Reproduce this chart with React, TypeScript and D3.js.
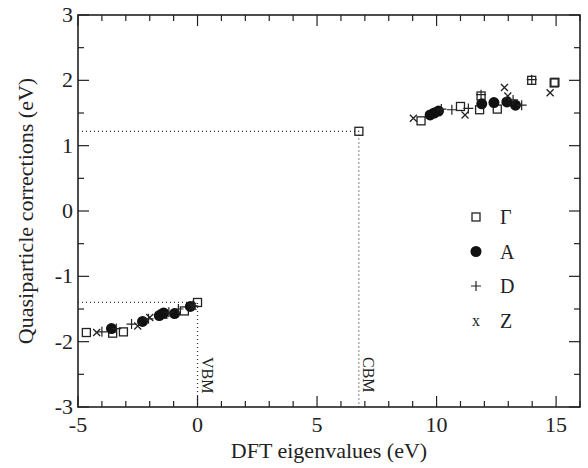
import React from 'react';
import * as d3 from 'd3';

// points: [DFT eigenvalue, QP correction]
const gammaPts: [number, number][] = [
  [-4.65, -1.86], [-3.55, -1.87], [-3.1, -1.85], [-1.45, -1.58], [-0.55, -1.53], [0, -1.4],
  [6.75, 1.22],
  [9.35, 1.38], [11.0, 1.6], [11.8, 1.55], [11.86, 1.76], [12.54, 1.56], [13.98, 2.0], [14.92, 1.96], [14.95, 1.97],
];
const aPts: [number, number][] = [
  [-3.6, -1.8], [-2.3, -1.69], [-1.6, -1.6], [-1.42, -1.56], [-0.96, -1.57], [-0.3, -1.46],
  [9.73, 1.47], [9.9, 1.5], [10.08, 1.53], [11.89, 1.64], [12.4, 1.66], [12.94, 1.67], [13.3, 1.62],
];
const dPts: [number, number][] = [
  [-4.0, -1.85], [-3.4, -1.8], [-2.76, -1.73], [-2.05, -1.65], [-1.2, -1.55], [-0.8, -1.5], [-0.2, -1.45],
  [10.2, 1.56], [10.64, 1.55], [11.33, 1.57], [11.86, 1.78], [13.2, 1.7], [13.56, 1.62], [13.98, 2.01],
];
const zPts: [number, number][] = [
  [-4.22, -1.86], [-2.5, -1.76], [-2.0, -1.63], [-0.2, -1.46],
  [9.03, 1.42], [11.19, 1.47], [12.84, 1.89], [12.98, 1.76], [14.75, 1.81],
];

const vbm: [number, number] = [0, -1.4];
const cbm: [number, number] = [6.75, 1.22];

const legendLabels = ['Γ', 'A', 'D', 'Z'];
const xTicks = [-5, 0, 5, 10, 15];
const yTicks = [-3, -2, -1, 0, 1, 2, 3];

const W = 588, H = 468;
const m = { left: 78, top: 15, right: 8, bottom: 61 };
const font = "'Liberation Serif', 'DejaVu Serif', serif";

function Marker({ kind, x, y }: { kind: string; x: number; y: number }) {
  if (kind === 'Γ') return <rect x={x - 4} y={y - 4} width={8} height={8} fill="none" stroke="#222" strokeWidth={1.3} />;
  if (kind === 'A') return <circle cx={x} cy={y} r={5.5} fill="#111" />;
  if (kind === 'D') return <path d={`M${x - 5},${y}H${x + 5}M${x},${y - 5}V${y + 5}`} stroke="#222" strokeWidth={1.2} />;
  return <path d={`M${x - 3.5},${y - 3.5}L${x + 3.5},${y + 3.5}M${x - 3.5},${y + 3.5}L${x + 3.5},${y - 3.5}`} stroke="#222" strokeWidth={1.3} />;
}

export default function App() {
  const x = d3.scaleLinear().domain([-5, 16]).range([m.left, W - m.right]);
  const y = d3.scaleLinear().domain([-3, 3]).range([H - m.bottom, m.top]);
  const x0 = m.left, x1 = W - m.right, y0 = H - m.bottom, y1 = m.top;

  const xMinor = d3.range(-5, 17, 1);
  const yMinor = d3.range(-3, 3.01, 0.5);
  const series: [string, [number, number][]][] = [['Γ', gammaPts], ['A', aPts], ['D', dPts], ['Z', zPts]];

  return (
    <svg width={W} height={H} style={{ position: 'absolute', left: 0, top: 0, background: '#fff', fontFamily: font }}>
      {/* dotted guides for VBM / CBM */}
      <g stroke="#333" strokeWidth={1.2} strokeDasharray="1,3" fill="none">
        <path d={`M${x0},${y(vbm[1])}H${x(vbm[0])}V${y0}`} />
        <path d={`M${x0},${y(cbm[1])}H${x(cbm[0])}V${y0}`} />
      </g>
      <text transform={`translate(${x(vbm[0]) + 4},${y0 - 50}) rotate(90)`} fontSize={16} fill="#222">VBM</text>
      <text transform={`translate(${x(cbm[0]) + 4},${y0 - 50}) rotate(90)`} fontSize={16} fill="#222">CBM</text>

      {/* ticks, all sides, pointing in */}
      <g stroke="#222" strokeWidth={1.2}>
        {xMinor.map(t => {
          const len = t % 5 === 0 ? 11 : 6;
          return (
            <g key={'x' + t}>
              <line x1={x(t)} x2={x(t)} y1={y0} y2={y0 - len} />
              <line x1={x(t)} x2={x(t)} y1={y1} y2={y1 + len} />
            </g>
          );
        })}
        {yMinor.map(t => {
          const len = Number.isInteger(t) ? 11 : 6;
          return (
            <g key={'y' + t}>
              <line x1={x0} x2={x0 + len} y1={y(t)} y2={y(t)} />
              <line x1={x1} x2={x1 - len} y1={y(t)} y2={y(t)} />
            </g>
          );
        })}
      </g>
      <rect x={x0} y={y1} width={x1 - x0} height={y0 - y1} fill="none" stroke="#222" strokeWidth={1.6} />

      {xTicks.map(t => (
        <text key={t} x={x(t)} y={y0 + 25} textAnchor="middle" fontSize={22} fill="#222">{t}</text>
      ))}
      {yTicks.map(t => (
        <text key={t} x={x0 - 5} y={y(t) + 7} textAnchor="end" fontSize={22} fill="#222">{t}</text>
      ))}
      <text x={(x0 + x1) / 2} y={H - 10} textAnchor="middle" fontSize={22} fill="#222">DFT eigenvalues (eV)</text>
      <text transform={`translate(33,${(y0 + y1) / 2}) rotate(-90)`} textAnchor="middle" fontSize={22} fill="#222">
        Quasiparticle corrections (eV)
      </text>

      {series.map(([k, pts]) => (
        <g key={k}>
          {pts.map((p, i) => <Marker key={i} kind={k} x={x(p[0])} y={y(p[1])} />)}
        </g>
      ))}

      {/* legend */}
      {legendLabels.map((l, i) => {
        const ly = 217 + i * 34.5;
        return (
          <g key={l}>
            {l === 'Z'
              ? <text x={476} y={ly + 5} textAnchor="middle" fontSize={16} fill="#222">x</text>
              : <Marker kind={l} x={476} y={ly} />}
            <text x={500} y={ly + 7} fontSize={20} fill="#222">{l}</text>
          </g>
        );
      })}
    </svg>
  );
}
